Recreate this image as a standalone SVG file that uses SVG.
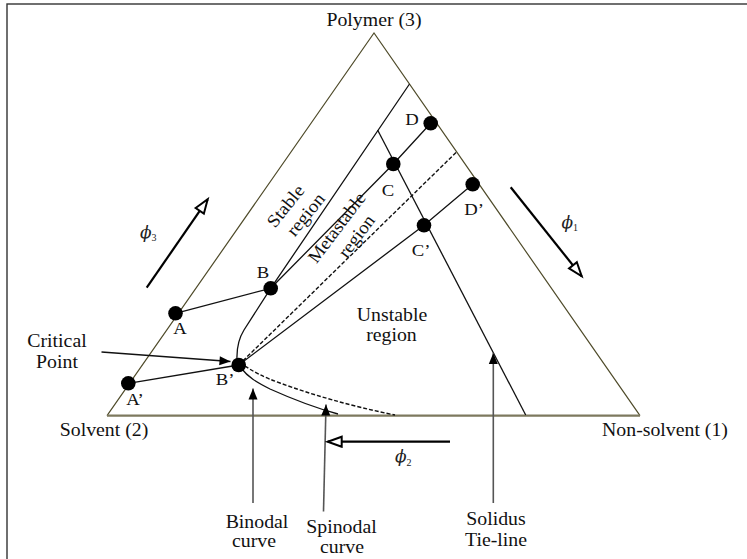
<svg xmlns="http://www.w3.org/2000/svg" width="747" height="559" viewBox="0 0 747 559">
<style>
.t{font-family:"Liberation Serif","Times New Roman",serif;font-size:18px;fill:#111;text-anchor:middle}
.lab{font-family:"Liberation Serif","Times New Roman",serif;font-size:17px;fill:#111;text-anchor:middle}
.phi{font-family:"DejaVu Serif","Liberation Serif",serif;font-size:17px;font-style:italic;fill:#222}
.sub{font-family:"Liberation Serif",serif;font-size:10px;font-style:normal}
.edge{stroke:#4f4b2a;stroke-width:1.2;fill:none}
.base{stroke:#7d795e;stroke-width:2.2;fill:none}
.ln{stroke:#111;stroke-width:1.3;fill:none}
.dash{stroke:#111;stroke-width:1.4;fill:none;stroke-dasharray:4 2}
.pt{fill:#000}
.big{stroke:#000;stroke-width:2.2;fill:none;marker-end:url(#open)}
.ptr{stroke:#555;stroke-width:1.6;fill:none;marker-end:url(#fill)}
</style>
<defs>
<marker id="open" markerUnits="userSpaceOnUse" markerWidth="18" markerHeight="14" refX="15" refY="6" orient="auto" overflow="visible">
<path d="M1,1 L15,6 L1,11 z" fill="#fff" stroke="#000" stroke-width="2"/>
</marker>
<marker id="fill" markerUnits="userSpaceOnUse" markerWidth="14" markerHeight="10" refX="11" refY="5" orient="auto" overflow="visible">
<path d="M0,0.5 L11,5 L0,9.5 z" fill="#000"/>
</marker>
</defs>
<rect x="7" y="4" width="780" height="600" fill="none" stroke="#333" stroke-width="1.4"/>

<g id="triangle">
<path class="edge" d="M107,415.7 L374,33 L640,415.7"/>
<path class="base" d="M107,415.7 L640,415.7"/>
</g>

<g id="connectors">
<path class="ln" d="M409.5,84 L270.7,288.3 L244,330 C239,338 236.5,348 237,360"/>
<path class="ln" d="M241,368 C248,377 256,382 270,389 C290,398 312,407 338,414"/>
<path class="dash" d="M245,366 C254,372 263,377 280,383 C310,394 350,406 395,415"/>
<path class="dash" d="M238.7,365 L456.5,152"/>
<path class="ln" d="M270.7,288.3 L393.3,164 L430.7,123.3"/>
<path class="ln" d="M238.7,365 L424,225.3 L472.7,184.3"/>
<path class="ln" d="M377.6,130 L525.7,415"/>
<path class="ln" d="M175.5,313.3 L270.7,288.3"/>
<path class="ln" d="M128.3,383.3 L238.7,365"/>
<path class="ln" d="M101.5,352 L230.5,361.5" marker-end="url(#fill)"/>
<path class="ptr" d="M253,503 L253,388.5"/>
<path class="ptr" d="M323.5,511.5 L326,404.5"/>
<path class="ptr" d="M493.3,503 L493.3,353"/>
<path class="big" d="M146.7,287.7 L207.7,199.3"/>
<path class="big" d="M510.7,187.3 L581.7,276.3"/>
<path class="big" d="M450,441.7 L327.7,441.7"/>
</g>

<g id="points">
<circle id="pA" class="pt" cx="175.5" cy="313.3" r="7.3"/>
<circle id="pB" class="pt" cx="270.7" cy="288.3" r="7.3"/>
<circle id="pC" class="pt" cx="393.3" cy="164" r="7.3"/>
<circle id="pD" class="pt" cx="430.7" cy="123.3" r="7.3"/>
<circle id="pA2" class="pt" cx="128.3" cy="383.3" r="7.3"/>
<circle id="pB2" class="pt" cx="238.7" cy="365" r="7.3"/>
<circle id="pC2" class="pt" cx="424" cy="225.3" r="7.3"/>
<circle id="pD2" class="pt" cx="472.7" cy="184.3" r="7.3"/>
</g>

<g id="labels">
<text class="t" transform="translate(374 26) scale(1.1 1)">Polymer (3)</text>
<text class="t" transform="translate(104 436) scale(1.1 1)">Solvent (2)</text>
<text class="t" transform="translate(665 436) scale(1.1 1)">Non-solvent (1)</text>
<text class="t" transform="translate(57 347) scale(1.1 1)">Critical</text>
<text class="t" transform="translate(57 368) scale(1.1 1)">Point</text>
<text class="lab" transform="translate(180 334) scale(1.1 1)">A</text>
<text class="lab" transform="translate(263 278) scale(1.1 1)">B</text>
<text class="lab" transform="translate(388 196) scale(1.1 1)">C</text>
<text class="lab" transform="translate(412 125) scale(1.1 1)">D</text>
<text class="lab" transform="translate(135 405) scale(1.1 1)">A’</text>
<text class="lab" transform="translate(225 385) scale(1.1 1)">B’</text>
<text class="lab" transform="translate(421 256) scale(1.1 1)">C’</text>
<text class="lab" transform="translate(474 215) scale(1.1 1)">D’</text>
<text class="t" transform="translate(392 321) scale(1.1 1)">Unstable</text>
<text class="t" transform="translate(391.5 341) scale(1.1 1)">region</text>
<g transform="translate(285.5 206) rotate(-51)">
<text class="t" transform="translate(0 6) scale(1.08 1)">Stable</text>
<text class="t" transform="translate(6 27) scale(1.08 1)">region</text>
</g>
<g transform="translate(336.7 227.5) rotate(-53)">
<text class="t" transform="translate(0 6) scale(1.05 1)">Metastable</text>
<text class="t" transform="translate(5 27) scale(1.05 1)">region</text>
</g>
<text class="t" transform="translate(257 528) scale(1.1 1)">Binodal</text>
<text class="t" transform="translate(254 547) scale(1.1 1)">curve</text>
<text class="t" transform="translate(341.5 533) scale(1.1 1)">Spinodal</text>
<text class="t" transform="translate(342 553) scale(1.1 1)">curve</text>
<text class="t" transform="translate(496 525) scale(1.1 1)">Solidus</text>
<text class="t" transform="translate(496 546) scale(1.1 1)">Tie-line</text>
<text class="phi" x="140" y="238">ϕ<tspan class="sub" dy="3">3</tspan></text>
<text class="phi" x="561.5" y="228">ϕ<tspan class="sub" dy="3">1</tspan></text>
<text class="phi" x="395" y="462">ϕ<tspan class="sub" dy="4">2</tspan></text>
</g>
</svg>
